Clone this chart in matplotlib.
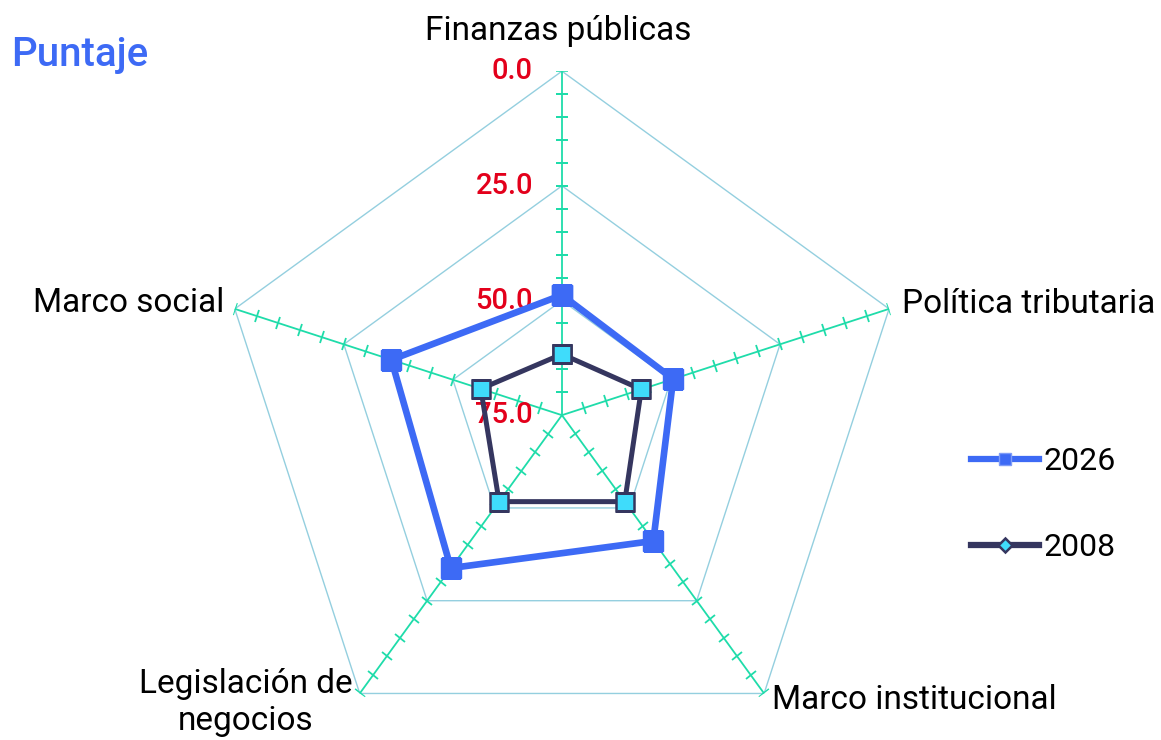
import numpy as np
import matplotlib
matplotlib.use("Agg")
import matplotlib.pyplot as plt
from matplotlib.lines import Line2D
from matplotlib.markers import MarkerStyle
from matplotlib.transforms import Affine2D

categories = ["Finanzas públicas", "Política tributaria", "Marco institucional",
              "Legislación de\nnegocios", "Marco social"]
scores_2026 = [48.8, 49.5, 41.1, 33.8, 35.9]
scores_2008 = [61.7, 56.8, 51.7, 51.7, 56.4]
ring_values = [0, 25, 50]
ring_labels = ["0.0", "25.0", "50.0", "75.0"]
label_values = [0, 25, 50, 75]
minor_values = list(range(0, 75, 5))
r_top = 75  # reversed scale: 0 at the rim, 75 at the centre

plt.rcParams["font.family"] = ["Roboto", "DejaVu Sans"]

blue = "#3d6af5"
navy = "#35365f"
cyan = "#3fdcfb"
spoke_c = "#1fdcaa"
ring_c = "#94cfdf"

fig = plt.figure(figsize=(11.61, 7.40), dpi=100)
ax = fig.add_axes([0.1877, -0.0259, 0.5926, 0.9297], projection="polar")
ax.set_theta_zero_location("N")
ax.set_theta_direction(-1)
ax.set_ylim(0, r_top)
ax.set_xticks([])
ax.set_yticks([])
ax.grid(False)
ax.spines["polar"].set_visible(False)
ax.patch.set_alpha(0)

n = len(categories)
angles = np.deg2rad(np.arange(n) * 360 / n)
closed = np.append(angles, angles[0])

def to_r(vals):
    return r_top - np.asarray(vals, dtype=float)

# pentagon rings
for v in ring_values:
    ax.plot(closed, [r_top - v] * (n + 1), color=ring_c, lw=1.0, zorder=1)

# spokes and minor ticks
for i, a in enumerate(angles):
    ax.plot([a, a], [0, r_top], color=spoke_c, lw=1.3, zorder=2)
    mk = MarkerStyle("_", transform=Affine2D().rotate_deg(-np.rad2deg(a)))
    ax.plot([a] * len(minor_values), to_r(minor_values), ls="none",
            marker=mk, ms=9, mew=1.3, color=spoke_c, zorder=2)

# radial labels along the top spoke
for v, lab in zip(label_values, ring_labels):
    ax.annotate(lab, xy=(0, r_top - v), xytext=(-29, 0), textcoords="offset pixels",
                ha="right", va="center", color="#e3001b", fontsize=21,
                fontweight="medium", zorder=3)

# series
ax.plot(closed, np.append(to_r(scores_2026), to_r(scores_2026)[0]), color=blue,
        lw=4.8, marker="s", ms=15, mfc=blue, mec=blue, zorder=4)
ax.plot(closed, np.append(to_r(scores_2008), to_r(scores_2008)[0]), color=navy,
        lw=3.6, marker="s", ms=13, mfc=cyan, mec=navy, mew=1.8, zorder=5)

# category labels
label_pos = [((-4, 40), "center", "center"),
             ((13, 5), "left", "center"),
             ((8, -7), "left", "center"),
             ((-114, -9), "center", "center"),
             ((-11, 6), "right", "center")]
for a, cat, (off, ha, va) in zip(angles, categories, label_pos):
    ax.annotate(cat, xy=(a, r_top), xytext=off, textcoords="offset pixels",
                ha=ha, va=va, fontsize=24, color="black", multialignment="center",
                linespacing=1.2, annotation_clip=False)

fig.text(0.010, 0.925, "Puntaje", color=blue, fontsize=29, fontweight="medium",
         ha="left", va="center")

handles = [Line2D([], [], color=blue, lw=4.5, marker="s", ms=9, mfc=blue, mec="#7f9cf7"),
           Line2D([], [], color=navy, lw=4.5, marker="D", ms=7, mfc=cyan, mec=navy, mew=1.8)]
fig.legend(handles, ["2026", "2008"], loc="center left",
           bbox_to_anchor=(0.8226, 0.318), frameon=False, fontsize=23,
           handlelength=2.13, handletextpad=0.15, labelspacing=1.8, borderpad=0)

fig.savefig("out.png", dpi=100)
